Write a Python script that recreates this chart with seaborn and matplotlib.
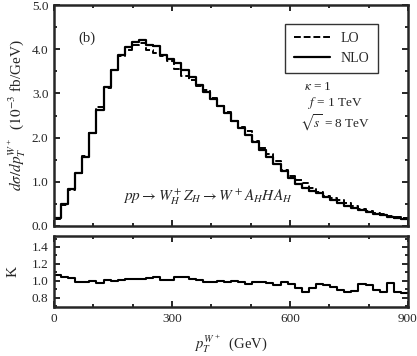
import numpy as np
import pandas as pd
import matplotlib
matplotlib.use("Agg")
import matplotlib.pyplot as plt
from matplotlib.ticker import MultipleLocator, FormatStrFormatter
from matplotlib.lines import Line2D
import seaborn as sns

# pT bins (GeV), 18 GeV wide
edges = np.arange(0, 901, 18)

# d sigma / d pT (10^-3 fb/GeV)
nlo = [0.17, 0.50, 0.83, 1.20, 1.57, 2.11, 2.62, 3.15, 3.54, 3.88,
       4.06, 4.17, 4.21, 4.10, 4.08, 3.88, 3.77, 3.69, 3.54, 3.38,
       3.20, 3.04, 2.87, 2.71, 2.55, 2.38, 2.22, 2.06, 1.89, 1.73,
       1.57, 1.41, 1.24, 1.08, 0.95, 0.85, 0.79, 0.74, 0.66, 0.59,
       0.52, 0.46, 0.40, 0.36, 0.31, 0.27, 0.24, 0.21, 0.18, 0.15]
lo = [0.16, 0.48, 0.81, 1.21, 1.59, 2.11, 2.70, 3.12, 3.54, 3.84,
      3.98, 4.09, 4.13, 3.98, 3.92, 3.84, 3.73, 3.55, 3.40, 3.31,
      3.17, 3.07, 2.90, 2.71, 2.58, 2.38, 2.24, 2.15, 1.93, 1.77,
      1.62, 1.48, 1.27, 1.13, 1.04, 0.98, 0.87, 0.77, 0.69, 0.63,
      0.58, 0.53, 0.45, 0.38, 0.33, 0.30, 0.28, 0.22, 0.21, 0.18]
# K factor panel
kfac = [1.07, 1.04, 1.03, 0.99, 0.99, 1.00, 0.97, 1.01, 1.00, 1.01,
        1.02, 1.02, 1.02, 1.03, 1.04, 1.01, 1.01, 1.04, 1.04, 1.02,
        1.01, 0.99, 0.99, 1.00, 0.99, 1.00, 0.99, 0.96, 0.98, 0.98,
        0.97, 0.95, 0.98, 0.96, 0.91, 0.87, 0.91, 0.96, 0.95, 0.93,
        0.89, 0.87, 0.88, 0.96, 0.95, 0.89, 0.87, 0.97, 0.87, 0.85]


def steps(vals):
    # histogram outline: one point per bin edge, last value repeated
    return pd.DataFrame({"pt": edges, "y": list(vals) + [vals[-1]]})


dashes = (0, (3.5, 1.5))

sns.set_style("ticks")
plt.rcParams["font.family"] = ["Liberation Serif", "DejaVu Serif"]
plt.rcParams["mathtext.fontset"] = "stix"

fig = plt.figure(figsize=(4.17, 3.56), dpi=100)
ax = fig.add_axes([54 / 417, 1 - 226 / 356, 354 / 417, 221 / 356])
axk = fig.add_axes([54 / 417, 1 - 307 / 356, 354 / 417, 71 / 356])

# Main panel
sns.lineplot(data=steps(lo), x="pt", y="y", drawstyle="steps-post", color="black",
             linewidth=1.4, linestyle=dashes, ax=ax)
sns.lineplot(data=steps(nlo), x="pt", y="y", drawstyle="steps-post", color="black",
             linewidth=1.6, ax=ax)

ax.set_xlim(0, 900)
ax.set_ylim(0, 5.0)
ax.xaxis.set_major_locator(MultipleLocator(300))
ax.xaxis.set_minor_locator(MultipleLocator(100))
ax.yaxis.set_major_locator(MultipleLocator(1.0))
ax.yaxis.set_minor_locator(MultipleLocator(0.5))
ax.yaxis.set_major_formatter(FormatStrFormatter("%.1f"))
ax.tick_params(axis="x", labelbottom=False)
ax.set_xlabel("")
ax.set_ylabel(r"$d\sigma/dp_T^{W^+}$  ($10^{-3}$ fb/GeV)", fontsize=11, labelpad=3)

ax.text(0.093, 0.85, "(b)", transform=ax.transAxes, fontsize=10.5, ha="center", va="center")

# legend
handles = [Line2D([], [], color="black", lw=1.4, linestyle=dashes),
           Line2D([], [], color="black", lw=1.6)]
leg = ax.legend(handles, ["LO", "NLO"], loc="upper right", bbox_to_anchor=(0.915, 0.914),
                borderaxespad=0, frameon=True, fancybox=False, fontsize=10,
                handlelength=2.6, borderpad=0.6, labelspacing=0.45)
leg.get_frame().set_edgecolor("black")
leg.get_frame().set_linewidth(1.0)

ax.text(0.705, 0.628, r"$\kappa$ = 1", transform=ax.transAxes, fontsize=9.5, ha="left", va="center")
ax.text(0.718, 0.556, r"$f$ = 1 TeV", transform=ax.transAxes, fontsize=9.5, ha="left", va="center")
ax.text(0.695, 0.466, r"$\sqrt{s}$ = 8 TeV", transform=ax.transAxes, fontsize=9.5, ha="left", va="center")

ax.text(0.435, 0.128, r"$pp \rightarrow W_H^+ Z_H \rightarrow W^+ A_H H A_H$",
        transform=ax.transAxes, fontsize=11, ha="center", va="center")

# K panel
sns.lineplot(data=steps(kfac), x="pt", y="y", drawstyle="steps-post", color="black",
             linewidth=1.5, ax=axk)
axk.set_xlim(0, 900)
axk.set_ylim(0.69, 1.53)
axk.xaxis.set_major_locator(MultipleLocator(300))
axk.xaxis.set_minor_locator(MultipleLocator(100))
axk.set_yticks([0.8, 1.0, 1.2, 1.4])
axk.yaxis.set_minor_locator(MultipleLocator(0.1))
axk.yaxis.set_major_formatter(FormatStrFormatter("%.1f"))
axk.set_ylabel("K", fontsize=11, labelpad=9)
axk.set_xlabel(r"$p_T^{W^+}$  (GeV)", fontsize=10.5, labelpad=6)

for a in (ax, axk):
    for s in a.spines.values():
        s.set_linewidth(1.8)
        s.set_visible(True)
    a.tick_params(which="both", direction="in", top=True, right=True, width=1.4,
                  labelsize=9.5, pad=4)
    a.tick_params(which="major", length=4)
    a.tick_params(which="minor", length=2.5)

fig.savefig("out.png", dpi=100)
